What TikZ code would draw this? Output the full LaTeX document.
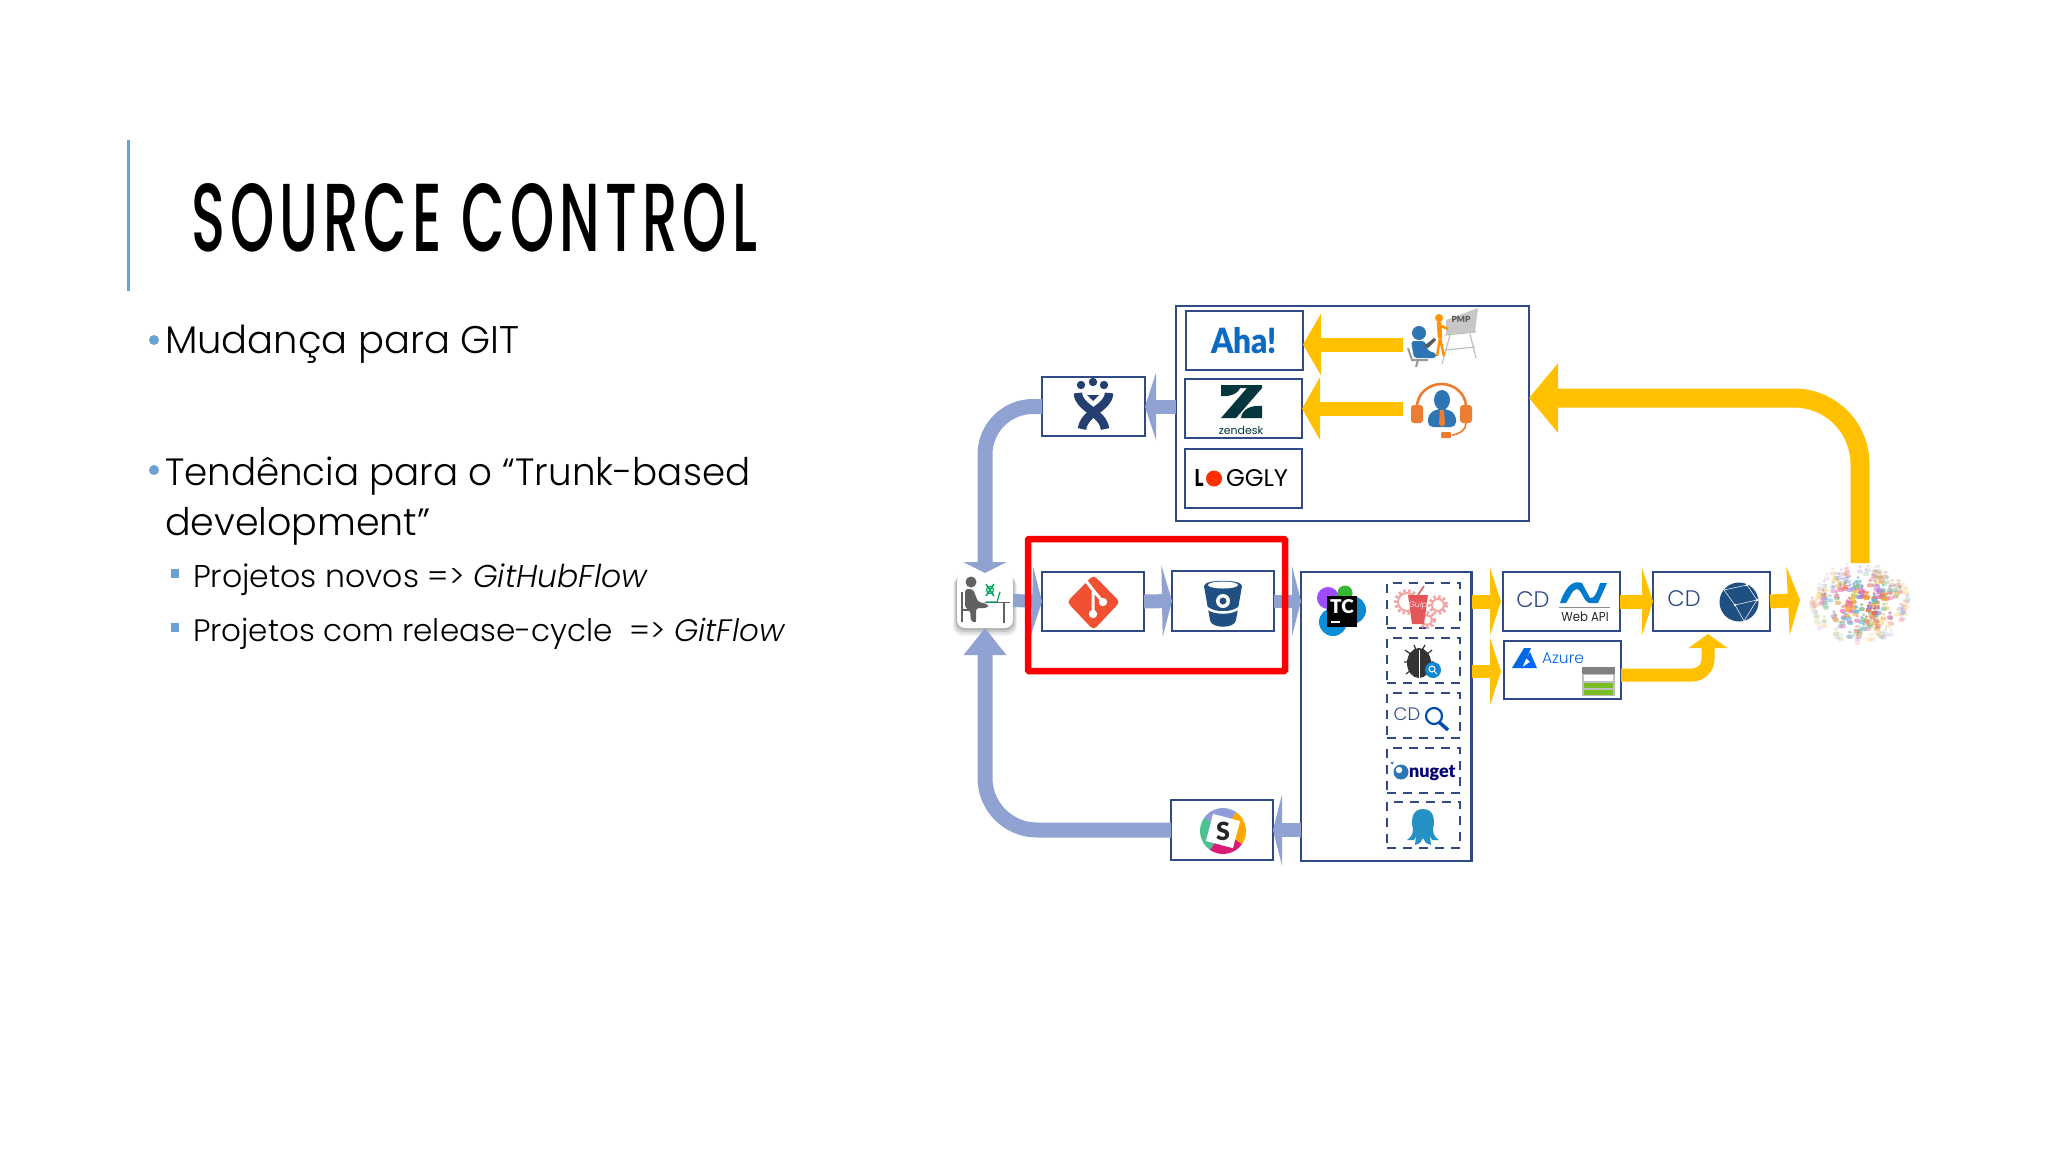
\documentclass[tikz,border=0pt]{standalone}
\usepackage{fontspec}
\usepackage{graphicx}
\usetikzlibrary{arrows.meta,calc}
\setmainfont{Poppins}[UprightFont=* Light,ItalicFont=* Light Italic]
\newfontfamily\titlef{Poppins}[UprightFont=* Medium,FakeStretch=0.55,LetterSpace=5]
\newfontfamily\plainf{Poppins}
\newfontfamily\boldf{Lato}[UprightFont=* Bold]
\definecolor{navy}{HTML}{2F4A85}
\definecolor{ablue}{HTML}{8FA2D2}
\definecolor{ayellow}{HTML}{FFC000}
\definecolor{barblue}{HTML}{6BA0D2}
\definecolor{jirablue}{HTML}{253F70}
\definecolor{bbblue}{HTML}{205081}
\definecolor{gitred}{HTML}{F05133}
\definecolor{gearpink}{HTML}{F2A3A3}
\definecolor{cuprd}{HTML}{E5565A}
\definecolor{zen}{HTML}{03363D}
\definecolor{orangeS}{HTML}{ED7D31}
\definecolor{bluep}{HTML}{2E75B6}
\definecolor{c0}{HTML}{E8604C}
\definecolor{c1}{HTML}{F2A33A}
\definecolor{c2}{HTML}{5DB7DE}
\definecolor{c3}{HTML}{7DC383}
\definecolor{c4}{HTML}{9A7EDC}
\definecolor{c5}{HTML}{E86FA8}
\definecolor{c6}{HTML}{F4C84E}
\tikzset{
  box/.style={draw=navy,line width=2.4pt,inner sep=0pt,outer sep=0pt},
  dashbox/.style={draw=navy,line width=2.2pt,dash pattern=on 9pt off 7pt,inner sep=0pt,outer sep=0pt,minimum width=73pt},
  blockblue/.style={draw=ablue,color=ablue,line width=#1},
  blockyel/.style={draw=ayellow,color=ayellow,line width=#1},
  headsize/.style 2 args={arrows={-{Triangle[length=#1,width=#2]}}},
  txt/.style={inner sep=0pt,outer sep=0pt,anchor=base west},
  ctr/.style={inner sep=0pt,outer sep=0pt,anchor=center},
}
\begin{document}
\begin{tikzpicture}[x=1pt,y=-1pt,line cap=butt]
\useasboundingbox (0,0) rectangle (2048,1152);
\fill[white] (0,0) rectangle (2048,1152);

% left column
\draw[barblue,line width=3pt] (128,140) -- (128,291);
\node[txt] (title) at (191,251) {\resizebox{566pt}{68pt}{\titlef SOURCE CONTROL}};
\fill[barblue] (154,340) circle (5);
\fill[barblue] (154,470) circle (5);
\node[txt] (b1) at (165,353) {\fontsize{38.5}{46}\selectfont Mudança para GIT};
\node[txt] (b2) at (165,485) {\fontsize{38}{46}\selectfont\addfontfeature{FakeStretch=0.98} Tendência para o “Trunk-based};
\node[txt] (b3) at (165,535) {\fontsize{38}{46}\selectfont development”};
\fill[barblue] (171,569) rectangle (179,578);
\fill[barblue] (171,623) rectangle (179,632);
\node[txt] (s1) at (193,587) {\fontsize{31.5}{38}\selectfont Projetos novos => \itshape GitHubFlow};
\node[txt] (s2) at (193,641) {\fontsize{31}{38}\selectfont Projetos com release-cycle\ \ => \itshape GitFlow};

% boxes
\node[box,minimum width=353pt,minimum height=215pt] (big) at (1352.5,413.5) {};
\node[box,minimum width=117pt,minimum height=59pt] (aha) at (1244.5,340.5) {};
\node[box,minimum width=117pt,minimum height=59pt] (zbox) at (1243.5,408.5) {};
\node[box,minimum width=117pt,minimum height=59pt] (logbox) at (1243.5,478.5) {};
\node[box,minimum width=103pt,minimum height=59pt] (jira) at (1093.5,406.5) {};
\node[box,minimum width=102pt,minimum height=59pt] (git) at (1093,601.5) {};
\node[box,minimum width=102pt,minimum height=60pt] (bb) at (1223,601) {};
\node[box,minimum width=170.5pt,minimum height=289pt] (tc) at (1386.25,716.5) {};
\node[dashbox,minimum height=45pt] (d1) at (1423.5,605.5) {};
\node[dashbox,minimum height=45pt] (d2) at (1423.5,660.5) {};
\node[dashbox,minimum height=45pt] (d3) at (1423.5,715.5) {};
\node[dashbox,minimum height=45pt] (d4) at (1423.5,770.5) {};
\node[dashbox,minimum height=46pt] (d5) at (1423.5,825) {};
\node[box,minimum width=117pt,minimum height=59pt] (web) at (1561.5,601.5) {};
\node[box,minimum width=117pt,minimum height=59pt] (glob) at (1711.5,601.5) {};
\node[box,minimum width=117pt,minimum height=58pt] (azure) at (1562.5,670) {};
\node[box,minimum width=102pt,minimum height=60pt] (slack) at (1222,830) {};
\node[inner sep=0pt,outer sep=0pt,minimum width=56pt,minimum height=55pt] (person) at (985,600.5) {};
\node[inner sep=0pt,outer sep=0pt,minimum width=103pt,minimum height=80pt] (crowd) at (1860,603) {};
\node[inner sep=0pt,outer sep=0pt,minimum width=80pt,minimum height=59pt] (pmp) at (1443,337.5) {};
\node[inner sep=0pt,outer sep=0pt,minimum width=77pt,minimum height=55pt] (support) at (1441.5,410.5) {};

% person tile
\foreach \o/\g in {8/.05,6/.07,4/.09,2/.12}{
  \fill[black,opacity=\g,rounded corners=9pt] (957-\o/2,573+\o/2) rectangle (1013+\o/2,628+\o);
}
\fill[white,rounded corners=8pt] (957,573) rectangle (1013,628);
\begin{scope}[color=black!62]
  \fill (971,582) circle (5.5);
  \fill[rounded corners=3pt] (965,589) -- (973,589) -- (978,602) -- (988,604) -- (988,608) -- (976,608) -- (976,622) -- (971,622) -- (970,610) -- (965,608) -- cycle;
  \draw[line width=1.5pt] (962,592) -- (962,622) (962,610) -- (975,610) (975,610) -- (975,622);
  \draw[line width=1.5pt] (985,602.5) -- (1010,602.5) (1004,602.5) -- (1004,623);
\end{scope}
\draw[teal!70!green,line width=1.2pt] (986,602) -- (997,602) -- (1000,592);
\draw[teal!70!green,line width=1.5pt] (986,584) -- (994,596) (994,584) -- (986,596);
\draw[teal!70!green,line width=1.2pt] (990,590) circle (3.5);

% crowd
\pgfmathsetseed{17}
\foreach \i in {1,...,230}{
  \pgfmathsetmacro{\ang}{rnd*360}
  \pgfmathsetmacro{\rad}{sqrt(rnd)}
  \pgfmathsetmacro{\cx}{1860+50*\rad*cos(\ang)}
  \pgfmathsetmacro{\cy}{603+38*\rad*sin(\ang)}
  \pgfmathtruncatemacro{\k}{int(rnd*6.99)}
  \pgfmathsetmacro{\op}{min(1,1.2-\rad)*0.8}
  \fill[color=c\k,opacity=\op] (\cx,\cy-2.6) circle (1.7);
  \fill[color=c\k,opacity=\op,rounded corners=1pt] (\cx-2.8,\cy) rectangle (\cx+2.8,\cy+4);
}

% arrows: feedback and delivery
\coordinate (fbtip) at (big.east |- 0,398);
\coordinate (azuretip) at (1708,634);
\coordinate (azurestart) at (1621,675);
\coordinate (boxout) at (big.west |- jira.east);
\coordinate (tcout) at (tc.west |- slack.east);
\coordinate (tcA) at (tc.east |- 0,601.5);
\coordinate (tcB) at (tc.east |- 0,671.5);
\coordinate (tcAend) at (1501,601.5);
\coordinate (tcBend) at (1501,671.5);
\coordinate (crowdin) at (1800,600);
\coordinate (ahain) at (aha.east |- 0,344.5);

\draw[blockyel=19pt,headsize={29pt}{68pt},rounded corners=66pt] (crowd.north) |- (fbtip);
\draw[blockyel=14pt,headsize={18pt}{61pt}] (pmp.west |- ahain) -- (ahain);
\draw[blockyel=14pt,headsize={18pt}{62pt}] (support.west |- zbox.east) -- (zbox.east);
\draw[blockyel=14pt,headsize={11pt}{67pt}] (tcA) -- (tcAend);
\draw[blockyel=13pt,headsize={11pt}{67pt}] (tcB) -- (tcBend);
\draw[blockyel=14pt,headsize={11pt}{67pt}] (web.east) -- (glob.west);
\draw[blockyel=14pt,headsize={12pt}{68pt}] (glob.east) -- (crowdin);
\draw[blockyel=13pt,headsize={14pt}{38pt},rounded corners=16pt] (azurestart) -| (azuretip);

\draw[blockblue=15pt,headsize={11pt}{43pt},rounded corners=48pt] (jira.west) -| (person.north);
\draw[blockblue=15pt,headsize={27pt}{41pt},rounded corners=52pt] (slack.west) -| (person.south);
\draw[blockblue=14pt,headsize={11pt}{67pt}] (boxout) -- (jira.east);
\draw[blockblue=13pt,headsize={10pt}{68pt}] (person.east) -- (git.west);
\draw[blockblue=14pt,headsize={10pt}{71pt}] (git.east) -- (bb.west);
\draw[blockblue=13pt,headsize={9pt}{70pt}] (bb.east) -- (tc.west |- bb.east);
\draw[blockblue=14pt,headsize={9pt}{71pt}] (tcout) -- (slack.east);

% highlight
\node[draw=red,line width=6.5pt,rounded corners=1pt,inner sep=0pt,outer sep=0pt,minimum width=257pt,minimum height=132pt] (hl) at (1156.5,605) {};

% Aha / zendesk / loggly
\node[ctr] (ahat) at (1244,341) {\resizebox{66pt}{26pt}{\color[HTML]{0B6AC4}\boldf\bfseries Aha!}};
\fill[zen] (1221,385) -- (1262,385) -- (1262,388) -- (1236,418) -- (1221,418) -- (1247,388) -- (1221,388) -- cycle;
\fill[zen] (1221,385) -- (1241,385) .. controls (1240,393) and (1231,397) .. (1221,396) -- cycle;
\fill[zen] (1262,418) -- (1241,418) .. controls (1242,409) and (1251,405) .. (1262,406) -- cycle;
\node[ctr] (zent) at (1241,430) {\fontsize{11}{13}\selectfont\color{zen}\plainf zendesk};
\node[ctr] (logl) at (1199,478) {\resizebox{9pt}{17pt}{\boldf\bfseries L}};
\fill[orange!20!red!90!yellow] (1214,478.5) circle (8);
\node[ctr] (logt) at (1257,478) {\resizebox{62pt}{17pt}{\plainf GGLY}};

% jira
\fill[jirablue] (1081,385) circle (4.2) (1093,382) circle (4.2) (1104,385) circle (4.2);
\draw[jirablue,line width=8.5pt] (1078,393) .. controls (1078,408) and (1103,412) .. (1105,429);
\draw[jirablue,line width=8.5pt] (1109,393) .. controls (1109,408) and (1084,412) .. (1082,429);
\fill[jirablue] (1087,395) -- (1099,395) -- (1093,401) -- cycle;

% git icon
\fill[gitred,rounded corners=4pt] (1093.5,575) -- (1120,602) -- (1093.5,630) -- (1067,602) -- cycle;
\draw[white,line width=3pt] (1086,581) -- (1093,590) -- (1093,614) (1093,590) -- (1103,602);
\fill[white] (1093,614) circle (4.2) (1103,602) circle (4.2);

% bitbucket
\fill[bbblue] (1204,586) .. controls (1204,579) and (1242,579) .. (1242,586) -- (1236,620) .. controls (1235,629) and (1211,629) .. (1210,620) -- cycle;
\fill[white] (1223,585) ellipse (15 and 3.5);
\draw[white,line width=2.5pt] (1207,608) .. controls (1215,614) and (1231,614) .. (1239,608);
\fill[white] (1223,601) circle (7);
\fill[bbblue] (1223,601) circle (3.5);

% teamcity
\fill[cyan!75!blue] (1333,622) circle (14);
\fill[blue!55!magenta!70] (1328,598) circle (11);
\fill[green!65!black!80] (1345,593) circle (7.5);
\fill[cyan!70!blue] (1352,610) circle (14);
\fill[black] (1327,596) rectangle (1357,627);
\node[ctr] (tct) at (1342,607) {\fontsize{19}{20}\selectfont\color{white}\boldf\bfseries TC};
\draw[white,line width=1.6pt] (1331,622) -- (1340,622);

% gulp
\foreach \cx/\cy/\r in {1407/602/9,1438/605/6,1427/620/5}{
  \draw[gearpink,line width=2pt] (\cx,\cy) circle (\r);
  \draw[gearpink,line width=3pt,dash pattern=on 2.5pt off 2.5pt] (\cx,\cy) circle (\r+2.5);
}
\fill[cuprd] (1408,595) -- (1428,595) -- (1424,624) -- (1412,624) -- cycle;
\draw[cuprd,line width=1.5pt] (1418,595) -- (1424,586);
\node[ctr] (gulpt) at (1418,606) {\fontsize{8}{9}\selectfont\itshape\color{white}Gulp};

% bug
\draw[black!80,line width=1.2pt] (1405,650) -- (1412,655) (1432,650) -- (1426,655) (1414,645) -- (1416,650) (1425,645) -- (1422,650)
  (1404,662) -- (1408,662) (1434,662) -- (1430,662) (1406,674) -- (1411,670) (1430,674) -- (1426,670);
\fill[black!80] (1419,663) ellipse (12 and 15);
\draw[white,line width=0.6pt] (1419,650) -- (1419,678);
\fill[cyan!70!blue] (1433,670) circle (8);
\draw[white,line width=1pt] (1432,669) circle (3) (1434,671) -- (1437,674);

% CD search
\node[ctr] (cd3) at (1407,714) {\fontsize{18}{20}\selectfont\color{navy}CD};
\draw[teal!60!blue,line width=2.2pt] (1434,716) circle (8);
\draw[teal!60!blue,line width=3.5pt] (1439,722) -- (1448,730);

% nuget
\fill[bluep] (1401,772) circle (7.5);
\fill[white] (1399,770) circle (3.2);
\fill[bluep] (1392,763) circle (1.5);
\node[txt] (nug) at (1409,777) {\fontsize{18}{20}\selectfont\color{blue!45!black}\boldf\bfseries nuget};

% octopus
\fill[bluep!80!cyan] (1423,809) .. controls (1411,809) and (1411,822) .. (1413,829) .. controls (1413,835) and (1410,838) .. (1407,840)
  -- (1414,840) -- (1416,836) -- (1415,845) -- (1420,843) -- (1423,838) -- (1426,843) -- (1431,845) -- (1430,836) -- (1432,840) -- (1439,840)
  .. controls (1436,838) and (1433,835) .. (1433,829) .. controls (1435,822) and (1435,809) .. (1423,809) -- cycle;

% webapi
\node[ctr] (cd1) at (1533,600) {\fontsize{22.5}{24}\selectfont\color{navy}CD};
\fill[blue!40!cyan!80!black] (1560,603) .. controls (1566,585) and (1574,580) .. (1582,583) -- (1590,598) .. controls (1594,600) and (1598,590) .. (1600,583) -- (1607,583) -- (1598,603) -- (1590,603) .. controls (1584,603) and (1582,590) .. (1577,589) .. controls (1572,589) and (1570,598) .. (1566,603) -- cycle;
\draw[black!45,line width=0.8pt] (1559,607) -- (1610,607);
\node[ctr] (wapi) at (1585,617) {\fontsize{13}{15}\selectfont\color{black!85}\plainf\addfontfeature{FakeStretch=0.9} Web API};

% globe
\node[ctr] (cd2) at (1684,599) {\fontsize{22.5}{24}\selectfont\color{navy}CD};
\fill[bbblue] (1739,602) circle (19.5);
\draw[white,line width=0.5pt] (1724,590) -- (1747,585) -- (1757,600) -- (1744,621) (1724,590) -- (1735,605) -- (1757,600) (1735,605) -- (1744,621);
\fill[white] (1747,585) circle (1.3) (1735,605) circle (1.3) (1757,600) circle (1.3);

% azure
\fill[blue!55!cyan!90!black] (1524,648) -- (1531,648) -- (1522,668) -- (1512,668) -- cycle;
\fill[blue!60!cyan] (1530,652) -- (1537,668) -- (1521,668) -- (1530,662) -- (1526,658) -- cycle;
\node[ctr] (azt) at (1563,658) {\fontsize{15.5}{18}\selectfont\color{blue!55!cyan!90!black}Azure};
\fill[black!50] (1582,667) rectangle (1615,674);
\fill[black!25] (1582,674) rectangle (1615,696);
\fill[white] (1584,675) rectangle (1613,681);
\fill[green!45!yellow!70!black!85!white] (1584,683) rectangle (1613,688);
\fill[green!45!yellow!70!black!85!white] (1584,690) rectangle (1613,695);

% slack
\fill[cyan!30!blue!45!white] (1223,831) -- +(215:23) arc (215:305:23) -- cycle;
\fill[orange!70!yellow] (1223,831) -- +(305:23) arc (305:395:23) -- cycle;
\fill[magenta!80!red!90!black] (1223,831) -- +(35:23) arc (35:125:23) -- cycle;
\fill[green!40!cyan!65!black!70!white] (1223,831) -- +(125:23) arc (125:215:23) -- cycle;
\fill[white,rotate around={-15:(1223,831)}] (1209,817) rectangle (1237,845);
\node[ctr] (slt) at (1223,831) {\fontsize{25}{26}\selectfont\color{black!85}\boldf\bfseries S};

% PMP
\fill[black!22] (1446,320) -- (1478,308) -- (1475,332) -- (1446,334) -- cycle;
\draw[black!25,line width=1.2pt] (1445,335) -- (1476,332) (1450,335) -- (1442,364) (1470,334) -- (1476,358) (1445,350) -- (1475,347);
\node[ctr] (pmpt) at (1461,319) {\fontsize{8.5}{9}\selectfont\color{black!65}\boldf\bfseries PMP};
\fill[orange!85!yellow] (1439,318) circle (4);
\draw[orange!85!yellow,line width=4.5pt] (1439,322) -- (1440,338);
\draw[orange!85!yellow,line width=2.5pt] (1440,338) -- (1437,356) (1440,338) -- (1444,356) (1439,325) -- (1448,329);
\fill[bluep] (1419,333) circle (7);
\fill[bluep,rounded corners=3pt] (1411,341) -- (1425,341) -- (1428,351) -- (1436,353) -- (1436,358) -- (1414,358) -- cycle;
\fill[black!65] (1424,346) -- (1434,338) -- (1436,340) -- (1428,348) -- cycle;
\draw[black!40,line width=2pt] (1408,348) -- (1412,360) -- (1428,360) (1418,360) -- (1416,367);

% support
\draw[orangeS,line width=2.6pt] (1417,407) arc (180:360:24.5 and 23);
\fill[orangeS,rounded corners=3pt] (1411,405) rectangle (1423,423);
\fill[orangeS,rounded corners=3pt] (1460,405) rectangle (1472,423);
\draw[orangeS,line width=1.6pt] (1466,423) .. controls (1466,430) and (1460,434) .. (1452,435);
\fill[orangeS,rounded corners=1pt] (1441,432) rectangle (1451,438);
\fill[bluep] (1442,400) ellipse (8 and 10);
\fill[bluep,rounded corners=5pt] (1428,427) -- (1428,415) -- (1436,409) -- (1448,409) -- (1456,415) -- (1456,427) -- cycle;
\fill[orangeS] (1440,410) -- (1444,410) -- (1445,424) -- (1442,427) -- (1439,424) -- cycle;
\end{tikzpicture}
\end{document}
